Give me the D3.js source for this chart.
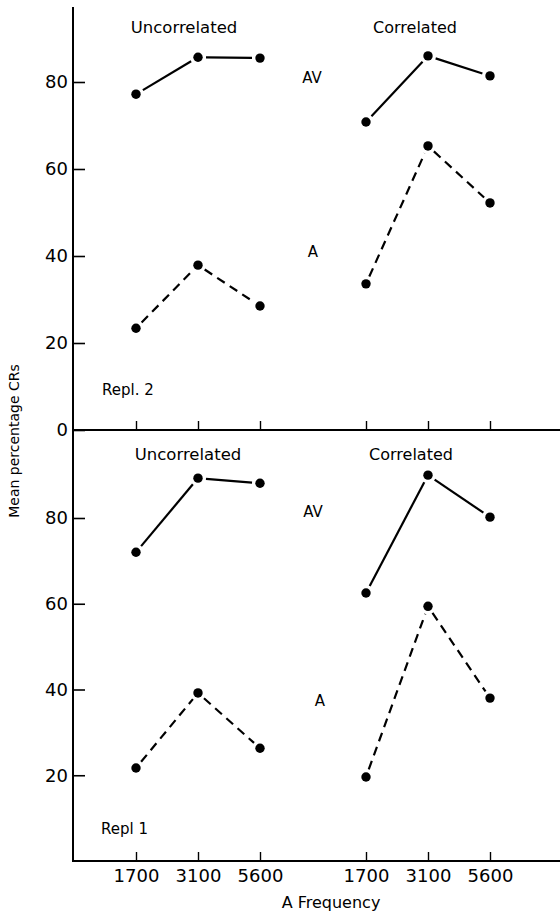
<!DOCTYPE html>
<html>
<head>
<meta charset="utf-8">
<script src="https://cdn.jsdelivr.net/npm/d3@7"></script>
<style>
body{margin:0;background:#fff;}
svg text{font-family:"DejaVu Sans",sans-serif;fill:#000;}
</style>
</head>
<body>
<script>
// values (mean percentage CRs)
var frequencies = ["1700","3100","5600"];
var conditions = ["Uncorrelated","Correlated"];

var repl2UncorrAV = [77.2, 85.7, 85.5];
var repl2UncorrA  = [23.4, 37.9, 28.5];
var repl2CorrAV   = [70.8, 86.0, 81.4];
var repl2CorrA    = [33.6, 65.3, 52.2];

var repl1UncorrAV = [72.0, 89.3, 88.1];
var repl1UncorrA  = [21.7, 39.2, 26.3];
var repl1CorrAV   = [62.5, 90.0, 80.2];
var repl1CorrA    = [19.6, 59.4, 38.0];

var yTicksRepl2 = [0,20,40,60,80];
var yTicksRepl1 = [20,40,60,80];

(function(){
	var width = 560, height = 913;
	var axisLeftX = 73, axisTopY = 7;
	var gap = 8;   // lines stop short of the dots

	var svg = d3.select("body")
		.append("svg")
		.attr("width",width)
		.attr("height",height);

	var xCond = d3.scalePoint().domain(conditions).range([198,428]);
	var xFreq = d3.scalePoint().domain(frequencies).range([-62,62]);
	function xPos(cond,freq){ return xCond(cond) + xFreq(freq); }

	var panels = [
		{
			y: d3.scaleLinear().domain([0,80]).range([430,82]),
			ticks: yTicksRepl2,
			showXLabels: false,
			series: [
				{cond:"Uncorrelated", dashed:false, values:repl2UncorrAV},
				{cond:"Uncorrelated", dashed:true,  values:repl2UncorrA},
				{cond:"Correlated",   dashed:false, values:repl2CorrAV},
				{cond:"Correlated",   dashed:true,  values:repl2CorrA}
			],
			texts: [
				{t:"Uncorrelated", x:184, y:33, size:16.5, anchor:"middle"},
				{t:"Correlated",   x:415, y:33, size:16,   anchor:"middle"},
				{t:"AV",           x:312, y:83, size:15,   anchor:"middle"},
				{t:"A",            x:313, y:257, size:15,  anchor:"middle"},
				{t:"Repl. 2",      x:102, y:395, size:15,  anchor:"start"}
			]
		},
		{
			y: d3.scaleLinear().domain([0,80]).range([861,518]),
			ticks: yTicksRepl1,
			showXLabels: true,
			series: [
				{cond:"Uncorrelated", dashed:false, values:repl1UncorrAV},
				{cond:"Uncorrelated", dashed:true,  values:repl1UncorrA},
				{cond:"Correlated",   dashed:false, values:repl1CorrAV},
				{cond:"Correlated",   dashed:true,  values:repl1CorrA}
			],
			texts: [
				{t:"Uncorrelated", x:188, y:460, size:16.5, anchor:"middle"},
				{t:"Correlated",   x:411, y:460, size:16,   anchor:"middle"},
				{t:"AV",           x:313, y:517, size:15,   anchor:"middle"},
				{t:"A",            x:320, y:706, size:15,   anchor:"middle"},
				{t:"Repl 1",       x:101, y:834, size:15,   anchor:"start"}
			]
		}
	];

	panels.forEach(function(p){
		var g = svg.append("g");
		var y0 = p.y(0);

		// horizontal base line
		g.append("line")
			.attr("x1",axisLeftX).attr("x2",width)
			.attr("y1",y0).attr("y2",y0)
			.style("stroke","#000").style("stroke-width",2);

		// y ticks pointing inwards
		var yAxis = g.append("g")
			.attr("transform","translate(" + axisLeftX + ",0)")
			.call(d3.axisLeft(p.y).tickValues(p.ticks).tickSize(-12).tickPadding(5).tickFormat(d3.format("d")));
		yAxis.select(".domain").remove();
		yAxis.selectAll(".tick line").style("stroke","#000").style("stroke-width",1.6);
		yAxis.selectAll(".tick text")
			.style("font-family","'DejaVu Sans',sans-serif")
			.style("font-size","18px")
			.style("fill","#000");

		// x ticks pointing up from the base line
		conditions.forEach(function(c){
			var xAxis = g.append("g")
				.attr("transform","translate(" + xCond(c) + "," + y0 + ")")
				.call(d3.axisBottom(xFreq).tickSize(-9).tickSizeOuter(0).tickPadding(8)
					.tickFormat(p.showXLabels ? null : function(){ return ""; }));
			xAxis.select(".domain").remove();
			xAxis.selectAll(".tick line").style("stroke","#000").style("stroke-width",1.4);
			xAxis.selectAll(".tick text")
				.style("font-family","'DejaVu Sans',sans-serif")
				.style("font-size","18px")
				.style("fill","#000");
		});

		// series
		p.series.forEach(function(s){
			var pts = s.values.map(function(v,i){
				return [xPos(s.cond,frequencies[i]), p.y(v)];
			});
			g.selectAll(null)
				.data(d3.pairs(pts))
				.enter()
				.append("line")
				.attr("x1",function(d){ return trim(d[0],d[1])[0]; })
				.attr("y1",function(d){ return trim(d[0],d[1])[1]; })
				.attr("x2",function(d){ return trim(d[1],d[0])[0]; })
				.attr("y2",function(d){ return trim(d[1],d[0])[1]; })
				.style("stroke","#000")
				.style("stroke-width",2.2)
				.style("stroke-dasharray",s.dashed ? "9,6" : null);
			g.selectAll(null)
				.data(pts)
				.enter()
				.append("circle")
				.attr("cx",function(d){ return d[0]; })
				.attr("cy",function(d){ return d[1]; })
				.attr("r",4.7)
				.style("fill","#000");
		});

		g.selectAll(null)
			.data(p.texts)
			.enter()
			.append("text")
			.attr("x",function(d){ return d.x; })
			.attr("y",function(d){ return d.y; })
			.attr("text-anchor",function(d){ return d.anchor; })
			.style("font-size",function(d){ return d.size + "px"; })
			.text(function(d){ return d.t; });
	});

	function trim(a,b){
		var dx = b[0]-a[0], dy = b[1]-a[1];
		var len = Math.sqrt(dx*dx + dy*dy);
		return [a[0] + dx/len*gap, a[1] + dy/len*gap];
	}

	// vertical axis
	svg.append("line")
		.attr("x1",axisLeftX).attr("x2",axisLeftX)
		.attr("y1",axisTopY).attr("y2",panels[1].y(0) + 1)
		.style("stroke","#000").style("stroke-width",2);

	// axis titles
	svg.append("text")
		.attr("text-anchor","middle")
		.attr("transform","translate(19,441) rotate(-90)")
		.style("font-size","14px")
		.text("Mean percentage CRs");
	svg.append("text")
		.attr("x",331).attr("y",908)
		.attr("text-anchor","middle")
		.style("font-size","16px")
		.text("A Frequency");
})();
</script>
</body>
</html>
